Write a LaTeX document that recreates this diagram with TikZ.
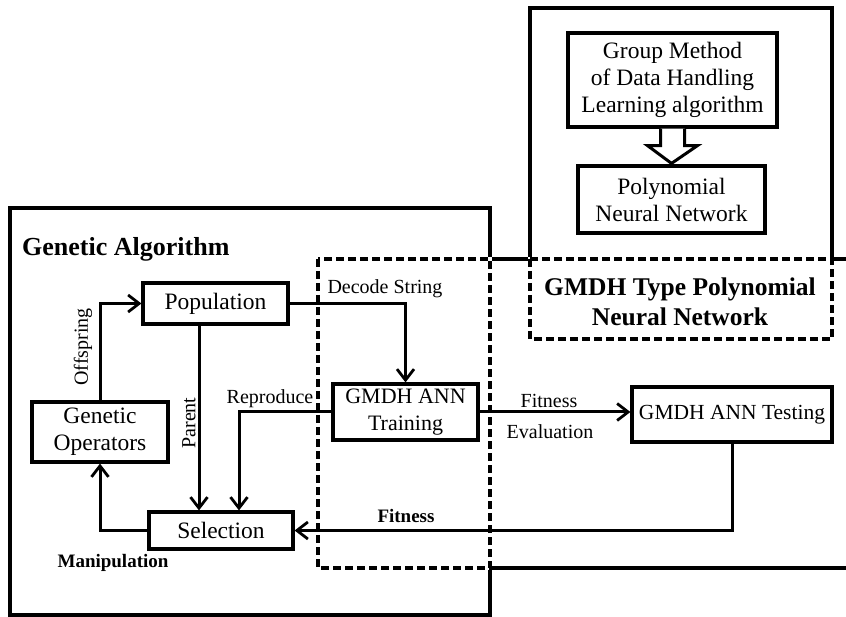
\documentclass[tikz,border=0pt]{standalone}
\usepackage{fontspec}
\setmainfont{Liberation Serif}
\usetikzlibrary{arrows.meta}
\begin{document}
\begin{tikzpicture}[x=1pt,y=-1pt,
  box/.style={draw, line width=3.2pt, inner sep=0pt, align=center, font=\fontsize{23.5}{27}\selectfont},
  conn/.style={line width=3pt, -{Straight Barb[length=11pt,width=17pt,line width=2.8pt]}},
  lbl/.style={font=\fontsize{20}{24}\selectfont, inner sep=0pt},
  blbl/.style={font=\bfseries\fontsize{19}{24}\selectfont, inner sep=0pt},
  frame/.style={line width=3.3pt},
  dashbox/.style={line width=3.2pt, dash pattern=on 8pt off 4pt},
  under/.style={white, line width=4.6pt}
]
\useasboundingbox (0,0) rectangle (846,617);

% solid frames
\draw[frame] (10,208) rectangle (490,615);
\draw[frame] (490,259) -- (846,259);
\draw[frame] (490,568) -- (846,568);
\draw[frame] (530,8) rectangle (832,259);

% dashed frames (over the solid lines)
\draw[under] (318,259) rectangle (490,568);
\draw[dashbox] (318,259) rectangle (490,568);
\draw[under] (530,259) rectangle (832,339);
\draw[dashbox] (530,259) rectangle (832,339);

% titles
\node[font=\bfseries\fontsize{26}{30}\selectfont, anchor=west, inner sep=0pt] (gat) at (22,249) {Genetic Algorithm};
\node[font=\bfseries\fontsize{25.5}{30}\selectfont, align=center, inner sep=0pt] (gmt) at (680,302) {GMDH Type Polynomial\\Neural Network};

% boxes
\node[box, minimum width=209pt, minimum height=94pt] (gmdhl) at (672.5,80) {Group Method\\of Data Handling\\Learning algorithm};
\node[box, minimum width=187pt, minimum height=67pt] (pnn) at (671.5,199.5) {Polynomial\\Neural Network};
\node[box, minimum width=145pt, minimum height=41pt] (pop) at (215.5,303.5) {Population};
\node[box, minimum width=136pt, minimum height=60pt] (go) at (100,432) {Genetic\\Operators};
\node[box, minimum width=144pt, minimum height=37pt] (sel) at (221,530.5) {Selection};
\node[box, minimum width=145pt, minimum height=56pt, font=\fontsize{22}{27}\selectfont] (train) at (405.5,412) {GMDH ANN\\Training};
\node[box, minimum width=200pt, minimum height=55pt, font=\fontsize{21.5}{26}\selectfont] (test) at (732,414.5) {GMDH ANN Testing};

% hollow arrow
\draw[line width=3pt, fill=white, line join=miter]
  ([xshift=-12pt]gmdhl.south) -- ([xshift=-12pt,yshift=-17pt]gmdhl.south)
  -- ([xshift=-25pt,yshift=-17pt]gmdhl.south) -- ([yshift=1pt]pnn.north)
  -- ([xshift=25pt,yshift=-17pt]gmdhl.south) -- ([xshift=12pt,yshift=-17pt]gmdhl.south)
  -- ([xshift=12pt]gmdhl.south);

% connectors
\draw[conn] (go.north) |- (pop.west);
\draw[conn] ([xshift=-16.5pt]pop.south) -- ([xshift=-16.5pt]pop.south |- sel.north);
\draw[conn] (pop.east) -| (train.north);
\draw[conn] (train.west) -| ([xshift=18pt]sel.north);
\draw[conn] (train.east) -- (train.east -| test.west);
\draw[conn] (test.south) |- (sel.east);
\draw[conn] (sel.west) -| (go.south);

% labels
\node[lbl, rotate=90] (loff) at (83,347) {Offspring};
\node[lbl, rotate=90] (lpar) at (189,423) {Parent};
\node[lbl] (ldec) at (385,289) {Decode String};
\node[lbl] (lrep) at (270,399) {Reproduce};
\node[lbl] (lfit1) at (549,401) {Fitness};
\node[lbl] (leva) at (550,432) {Evaluation};
\node[blbl] (lfit2) at (406,516) {Fitness};
\node[blbl] (lman) at (113,563) {Manipulation};
\end{tikzpicture}
\end{document}
